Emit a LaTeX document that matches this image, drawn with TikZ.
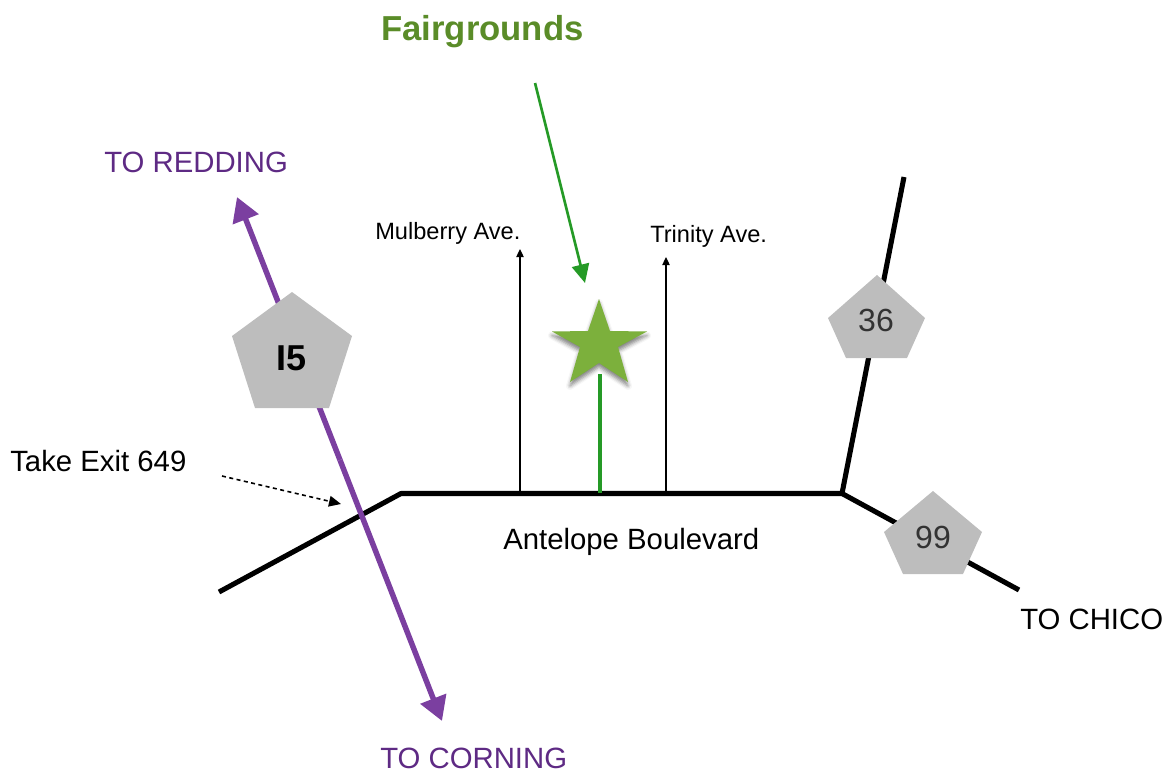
\documentclass[tikz,border=0pt]{standalone}
\usepackage{fontspec}
\setmainfont{Liberation Sans}
\usetikzlibrary{arrows.meta,shadows.blur}
\definecolor{purp}{HTML}{7B3FA0}
\definecolor{purptxt}{HTML}{5E2A84}
\definecolor{grn}{HTML}{259A26}
\definecolor{star}{HTML}{7CB03C}
\definecolor{fair}{HTML}{5A8C28}
\definecolor{pent}{HTML}{BDBDBD}
\tikzset{x=0.75pt,y=-0.75pt,
 road/.style={line width=3.8pt,black},
 hwy/.style={line width=4.1pt,purp,-{Triangle[length=18pt,width=20pt]}},
 lbl/.style={inner sep=0,anchor=base west,font=\fontsize{22}{26}\selectfont},
 small/.style={inner sep=0,anchor=base west,font=\fontsize{17.7}{20}\selectfont},
 pentnum/.style={inner sep=0,text=black!80,font=\fontsize{24}{28}\selectfont},
 pentshape/.style={fill=pent,draw=none}}
\begin{document}
\begin{tikzpicture}
\useasboundingbox (0,0) rectangle (1164,774);
\coordinate (r0) at (219,592); \coordinate (r1) at (401,493.5); \coordinate (r2) at (842,493.5);
\coordinate (r3) at (904,177); \coordinate (r4) at (1019,590);
\draw[road,line join=round] (r0)--(r1)--(r2)--(r3);
\draw[road] (r2)--(r4);
\coordinate (i1) at (442,721); \coordinate (i2) at (237,197); \coordinate (ic) at (340,460);
\draw[hwy] (ic)--(i1);
\draw[hwy] (ic)--(i2);
\coordinate (m0) at (520,493); \coordinate (m1) at (520,249);
\coordinate (t0) at (666,493); \coordinate (t1) at (666,257);
\draw[line width=0.9pt,-{Triangle[length=6pt,width=5.5pt]}] (m0)--(m1);
\draw[line width=0.9pt,-{Triangle[length=6pt,width=5.5pt]}] (t0)--(t1);
\coordinate (g0) at (600,493); \coordinate (g1) at (600,374);
\draw[grn,line width=2.4pt] (g0)--(g1);
\coordinate (a0) at (535,83); \coordinate (a1) at (585,283);
\draw[grn,line width=2pt,-{Triangle[length=14pt,width=13pt]}] (a0)--(a1);
\coordinate (e0) at (222,476); \coordinate (e1) at (341,504);
\draw[line width=1.2pt,dash pattern=on 3pt off 2.6pt,-{Triangle[length=9pt,width=8pt]}] (e0)--(e1);
\fill[pentshape] (292,292)--(352,336)--(329,408)--(255,408)--(232,336)--cycle;
\fill[pentshape] (877,275)--(925,318)--(907,358)--(846,358)--(828,318)--cycle;
\fill[pentshape] (933,491)--(982,532)--(963,574)--(903,574)--(884,532)--cycle;
\fill[star,blur shadow={shadow xshift=0pt,shadow yshift=-3pt,shadow blur radius=3pt,shadow opacity=50}]
 (599,299)--(610,331)--(647,331.5)--(618,347)--(628,382)--(599,363)--(570,382)--(580,347)--(552,331.5)--(588,331)--cycle;
\node[inner sep=0,font=\fontsize{27}{30}\selectfont\bfseries] (n15) at (292,358) {I5};
\node[pentnum] (n36) at (876,320) {36};
\node[pentnum] (n99) at (933,537) {99};
\node[inner sep=0,anchor=base west,text=fair,font=\fontsize{26}{30}\selectfont\bfseries] (f) at (381,41) {Fairgrounds};
\node[lbl,text=purptxt] (tr) at (104,172.5) {TO REDDING};
\node[lbl,text=purptxt] (tc) at (380,768.5) {TO CORNING};
\node[lbl] (tch) at (1020,629) {TO CHICO};
\node[lbl] (ab) at (503,549.5) {Antelope Boulevard};
\node[lbl] (ex) at (10,471) {Take Exit 649};
\node[small] (mu) at (375,239) {Mulberry Ave.};
\node[small] (tri) at (650,242) {Trinity Ave.};
\end{tikzpicture}
\end{document}
